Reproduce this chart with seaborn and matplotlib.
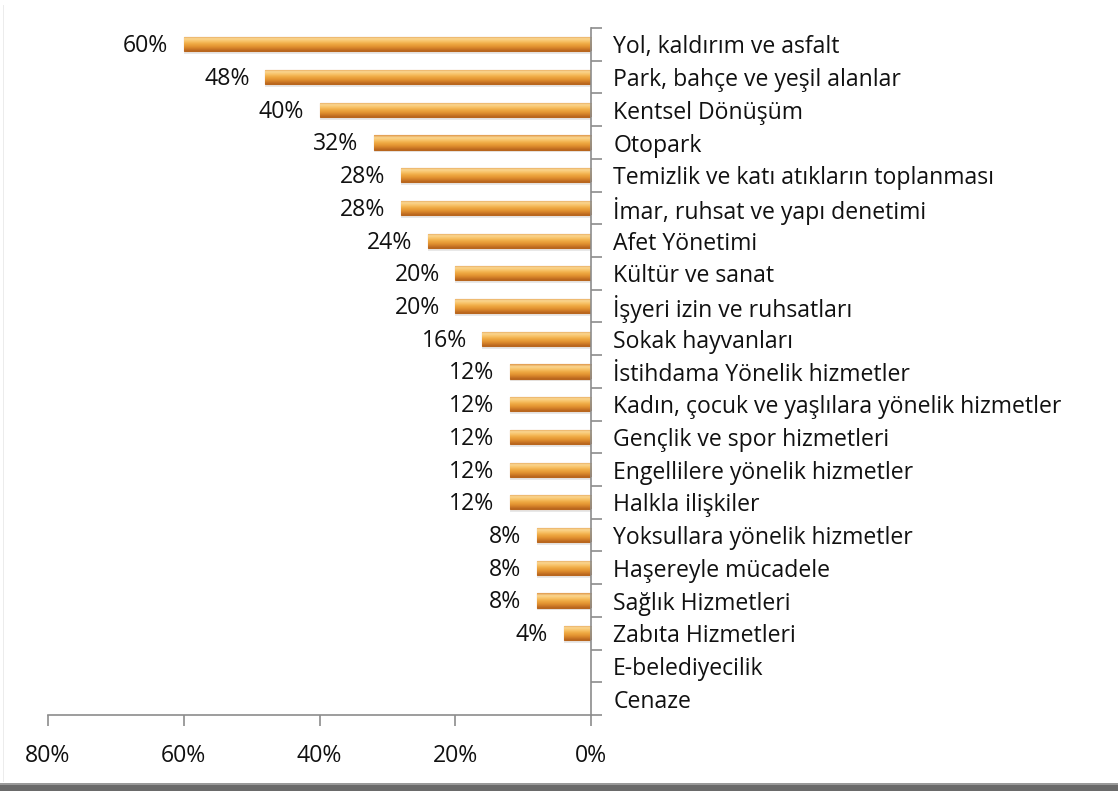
import numpy as np
import pandas as pd
import matplotlib
matplotlib.use("Agg")
import matplotlib.pyplot as plt
import seaborn as sns
from matplotlib.colors import LinearSegmentedColormap
from matplotlib.patches import Rectangle
from matplotlib.ticker import FixedLocator

categories = [
    "Yol, kaldırım ve asfalt",
    "Park, bahçe ve yeşil alanlar",
    "Kentsel Dönüşüm",
    "Otopark",
    "Temizlik ve katı atıkların toplanması",
    "İmar, ruhsat ve yapı denetimi",
    "Afet Yönetimi",
    "Kültür ve sanat",
    "İşyeri izin ve ruhsatları",
    "Sokak hayvanları",
    "İstihdama Yönelik hizmetler",
    "Kadın, çocuk ve yaşlılara yönelik hizmetler",
    "Gençlik ve spor hizmetleri",
    "Engellilere yönelik hizmetler",
    "Halkla ilişkiler",
    "Yoksullara yönelik hizmetler",
    "Haşereyle mücadele",
    "Sağlık Hizmetleri",
    "Zabıta Hizmetleri",
    "E-belediyecilik",
    "Cenaze",
]
values = [60, 48, 40, 32, 28, 28, 24, 20, 20, 16, 12, 12, 12, 12, 12, 8, 8, 8, 4, 0, 0]
x_ticks = [80, 60, 40, 20, 0]
x_tick_labels = ["80%", "60%", "40%", "20%", "0%"]

df = pd.DataFrame({"category": categories, "value": values})

sns.set_theme(style="white")
plt.rcParams["font.family"] = ["Open Sans", "DejaVu Sans"]
FS = 16.6

W, H, DPI = 1118, 791, 100
fig = plt.figure(figsize=(W / DPI, H / DPI), dpi=DPI)
fig.patch.set_facecolor("white")

# bottom shadow band
fig.patches.append(Rectangle((0, 0), 1, 6 / H, transform=fig.transFigure,
                             facecolor="#6a6a6a", edgecolor="none", zorder=0))
fig.patches.append(Rectangle((0, 6 / H), 1, 2 / H, transform=fig.transFigure,
                             facecolor="#9a9a9a", edgecolor="none", zorder=0))
# faint left border
fig.patches.append(Rectangle((3 / W, 9 / H), 1.2 / W, 1 - 14 / H, transform=fig.transFigure,
                             facecolor="#ececec", edgecolor="none", zorder=0))

ax = fig.add_axes([48 / W, 1 - 715 / H, (591 - 48) / W, (715 - 28) / H])

# subtle drop shadow under the bars
ax.barh(np.arange(len(values)) + 0.09, values, height=0.43, left=0,
        color="#000000", alpha=0.09, zorder=1, linewidth=0)

sns.barplot(data=df, x="value", y="category", orient="h", ax=ax,
            color="#EBA040", width=0.43, edgecolor="#B8661E", linewidth=0.8,
            saturation=1, zorder=2)

# gradient overlay on each bar (top light -> bottom dark)
cmap = LinearSegmentedColormap.from_list(
    "bar", ["#DC9244", "#FBD894", "#F8C46A", "#F0AC46", "#E69834", "#D27E28", "#B4621C"])
grad = np.linspace(0, 1, 256).reshape(-1, 1)
for p in [pp for pp in ax.patches if pp.get_zorder() == 2]:
    w = p.get_width()
    if w <= 0:
        continue
    x0, y0, h = p.get_x(), p.get_y(), p.get_height()
    im = ax.imshow(grad, cmap=cmap, aspect="auto", extent=(x0, x0 + w, y0 + h, y0),
                   zorder=2.5, interpolation="bicubic")
    im.set_clip_path(p)

ax.set_xlim(80, 0)
ax.set_ylim(len(values) - 0.5, -0.5)
ax.set_xlabel("")
ax.set_ylabel("")

# value labels
for i, v in enumerate(values):
    if v > 0:
        ax.text(v + 2.3, i + 0.06, f"{v}%", ha="right", va="center", fontsize=FS, color="#111111")

ax.xaxis.set_major_locator(FixedLocator(x_ticks))
ax.set_xticklabels(x_tick_labels, fontsize=FS, color="#111111")

ax.yaxis.tick_right()
ax.yaxis.set_label_position("right")
ax.set_yticks(range(len(categories)))
ax.set_yticklabels(categories, fontsize=FS, color="#111111")
ax.yaxis.set_minor_locator(FixedLocator(np.arange(-0.5, len(categories), 1)))
ax.tick_params(axis="y", which="major", length=0, pad=16)
ax.tick_params(axis="y", which="minor", length=8, width=1.2, color="#8c8c8c", right=True, left=False)
ax.tick_params(axis="x", which="major", length=8, width=1.2, color="#8c8c8c", pad=13, bottom=True)

for side in ["top", "left"]:
    ax.spines[side].set_visible(False)
for side in ["right", "bottom"]:
    ax.spines[side].set_visible(True)
    ax.spines[side].set_color("#8c8c8c")
    ax.spines[side].set_linewidth(1.2)

ax.grid(False)
fig.savefig("out.png", dpi=DPI, facecolor="white")
